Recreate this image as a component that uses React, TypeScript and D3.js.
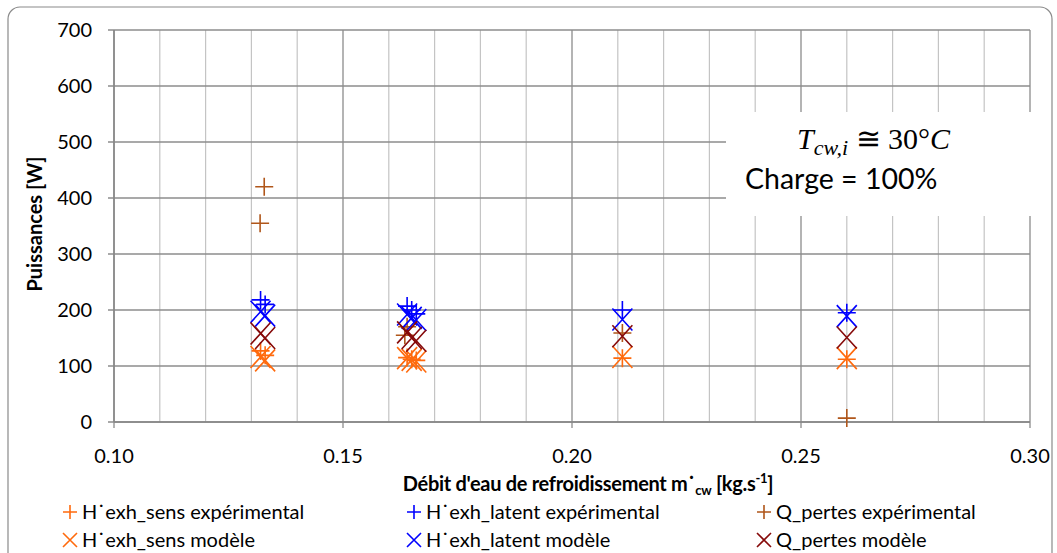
import React from "react";
import * as d3 from "d3";

const W = 1057;
const H = 553;

// x positions (débit, kg/s) of the experiments
const expX = [0.132, 0.133, 0.164, 0.165, 0.166, 0.211, 0.26];
const sensExp = [127, 119, 115, 112, 110, 114, 112];
const latentExp = [218, 210, 207, 200, 193, 200, 195];
const pertesExpX = [0.1328, 0.1319, 0.164, 0.1635, 0.211, 0.26];
const pertesExp = [420, 355, 170, 155, 159, 7];
const sensMod = [116, 110, 114, 111, 108, 116, 114];
const latentMod = [197, 190, 192, 186, 182, 183, 189];
const pertesMod = [158, 150, 160, 150, 145, 153, 151];

const xTicks = [0.1, 0.15, 0.2, 0.25, 0.3];
const xMinor = d3.range(0, 21).map((i) => 0.1 + i * 0.01);
const yTicks = [0, 100, 200, 300, 400, 500, 600, 700];

const C_SENS = "#FF6A0D";
const C_LAT = "#0000FF";
const C_PEXP = "#B0561A";
const C_PMOD = "#860A0A";

const FONT = "Lato, 'Open Sans', sans-serif";

const plusPath = (x: number, y: number, sx = 9, sy = 9) =>
  `M${x - sx},${y}H${x + sx}M${x},${y - sy}V${y + sy}`;
const crossPath = (x: number, y: number, sx = 10, sy = 11) =>
  `M${x - sx},${y - sy}L${x + sx},${y + sy}M${x + sx},${y - sy}L${x - sx},${y + sy}`;

export default function App() {
  const x = d3.scaleLinear().domain([0.1, 0.3]).range([114, 1030]);
  const y = d3.scaleLinear().domain([0, 700]).range([422, 30]);

  const series = [
    { xs: expX, ys: sensExp, color: C_SENS, kind: "plus" },
    { xs: expX, ys: latentExp, color: C_LAT, kind: "plus" },
    { xs: pertesExpX, ys: pertesExp, color: C_PEXP, kind: "plus" },
    { xs: expX, ys: sensMod, color: C_SENS, kind: "cross" },
    { xs: expX, ys: latentMod, color: C_LAT, kind: "cross" },
    { xs: expX, ys: pertesMod, color: C_PMOD, kind: "cross" },
  ];

  const legend = [
    { label: "H˙exh_sens expérimental", color: C_SENS, kind: "plus", col: 0, row: 0 },
    { label: "H˙exh_latent expérimental", color: C_LAT, kind: "plus", col: 1, row: 0 },
    { label: "Q_pertes expérimental", color: C_PEXP, kind: "plus", col: 2, row: 0 },
    { label: "H˙exh_sens modèle", color: C_SENS, kind: "cross", col: 0, row: 1 },
    { label: "H˙exh_latent modèle", color: C_LAT, kind: "cross", col: 1, row: 1 },
    { label: "Q_pertes modèle", color: C_PMOD, kind: "cross", col: 2, row: 1 },
  ];
  const legColX = [70, 414, 764];
  const legRowY = [512, 540];

  const [x0, x1] = x.range();
  const [y0, y1] = y.range();

  return (
    <svg
      width={W}
      height={H}
      style={{ position: "absolute", left: 0, top: 0, display: "block" }}
      fontFamily={FONT}
    >
      <rect x={0} y={0} width={W} height={H} fill="#fff" />
      <rect x={8} y={7} width={1044} height={560} rx={12} ry={12} fill="#fff" stroke="#8a8a8a" strokeWidth={1.2} />

      {/* minor vertical gridlines */}
      {xMinor.map((v, i) =>
        i % 5 === 0 ? null : (
          <line key={"mv" + i} x1={x(v)} x2={x(v)} y1={y1} y2={y0} stroke="#c4c4c4" strokeWidth={1.2} />
        )
      )}
      {/* major vertical gridlines */}
      {xTicks.map((v, i) => (
        <line key={"Mv" + i} x1={x(v)} x2={x(v)} y1={y1} y2={y0 + 6} stroke="#8c8c8c" strokeWidth={1.3} />
      ))}
      {/* horizontal gridlines */}
      {yTicks.map((v, i) => (
        <line key={"h" + i} x1={x0 - 6} x2={x1} y1={y(v)} y2={y(v)} stroke="#8c8c8c" strokeWidth={1.3} />
      ))}

      {/* annotation box (covers gridlines) */}
      <rect x={726} y={112} width={316} height={104} fill="#fff" />
      <text x={797} y={149} fontFamily="'Liberation Serif', 'DejaVu Serif', serif" fontSize={30}>
        <tspan fontStyle="italic">T</tspan>
        <tspan fontStyle="italic" fontSize={22} dy={6}>cw,i</tspan>
        <tspan dy={-6}> ≅ 30°</tspan>
        <tspan fontStyle="italic">C</tspan>
      </text>
      <text x={745} y={189} fontSize={28.5}>
        Charge = 100%
      </text>

      {/* axes lines */}
      <line x1={x0} x2={x0} y1={y1} y2={y0} stroke="#868686" strokeWidth={1.5} />
      <line x1={x0} x2={x1} y1={y0} y2={y0} stroke="#868686" strokeWidth={1.5} />

      {/* y tick labels */}
      {yTicks.map((v, i) => (
        <text key={"yt" + i} x={92} y={y(v) + 7} textAnchor="end" fontSize={20} fill="#000">
          {v}
        </text>
      ))}
      {/* x tick labels */}
      {xTicks.map((v, i) => (
        <text key={"xt" + i} x={x(v)} y={463} textAnchor="middle" fontSize={20} fill="#000">
          {d3.format(".2f")(v)}
        </text>
      ))}

      {/* axis titles */}
      <text x={588} y={491} textAnchor="middle" fontSize={20} fontWeight="bold" letterSpacing={-0.3}>
        Débit d'eau de refroidissement m˙
        <tspan fontSize={13} dy={4}>cw</tspan>
        <tspan dy={-4}> [kg.s</tspan>
        <tspan fontSize={13} dy={-8}>-1</tspan>
        <tspan dy={8}>]</tspan>
      </text>
      <text
        transform={`translate(42,${224}) rotate(-90)`}
        textAnchor="middle"
        fontSize={20}
        fontWeight="bold"
      >
        Puissances [W]
      </text>

      {/* data */}
      {series.map((s, si) =>
        s.ys.map((v, i) => (
          <path
            key={"p" + si + "-" + i}
            d={s.kind === "plus" ? plusPath(x(s.xs[i]), y(v)) : crossPath(x(s.xs[i]), y(v))}
            stroke={s.color}
            strokeWidth={1.6}
            fill="none"
          />
        ))
      )}

      {/* legend */}
      {legend.map((l, i) => {
        const lx = legColX[l.col];
        const ly = legRowY[l.row];
        return (
          <g key={"lg" + i}>
            <path
              d={l.kind === "plus" ? plusPath(lx, ly, 7, 7) : crossPath(lx, ly, 7, 7)}
              stroke={l.color}
              strokeWidth={1.6}
              fill="none"
            />
            <text x={lx + 12} y={ly + 7} fontSize={20}>
              {l.label}
            </text>
          </g>
        );
      })}
    </svg>
  );
}
